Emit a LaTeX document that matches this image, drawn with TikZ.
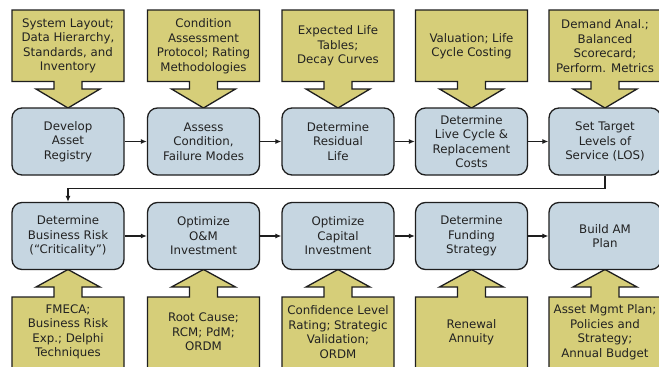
\documentclass[tikz,border=0pt]{standalone}
\usepackage{fontspec}
\setmainfont{DejaVu Sans}
\usetikzlibrary{arrows.meta}
\definecolor{calloutfill}{HTML}{D6CE79}
\definecolor{boxfill}{HTML}{C6D6E1}
\definecolor{edgecol}{HTML}{1E1E1E}
\definecolor{textcol}{HTML}{222222}
\tikzset{
  procbox/.style={draw=edgecol, line width=1.3pt, fill=boxfill, rounded corners=10pt,
    minimum width=112pt, minimum height=67pt, inner sep=0pt, align=center, text=textcol,
    font=\fontsize{11.8}{14.5}\selectfont},
  calltext/.style={align=center, inner sep=0pt, text=textcol, font=\fontsize{11.8}{14.5}\selectfont},
  callshape/.style={draw=edgecol, line width=1.3pt, fill=calloutfill, line join=miter},
  flow/.style={draw=edgecol, line width=1.1pt, -{Latex[length=6pt,width=5pt]}}
}
\newcommand{\topcall}[3]{%
  \path[callshape] (#1-56,10) -- (#1+56,10) -- (#1+56,81.5) -- (#1+14,81.5) -- (#1+14,89)
    -- (#1+32,89) -- (#1,108) -- (#1-32,89) -- (#1-14,89) -- (#1-14,81.5) -- (#1-56,81.5) -- cycle;
  \node[calltext] (#2) at (#1,46) {#3};}
\newcommand{\botcall}[3]{%
  \path[callshape] (#1-56,375) -- (#1+56,375) -- (#1+56,297) -- (#1+14,297) -- (#1+14,287)
    -- (#1+32,287) -- (#1,269.5) -- (#1-32,287) -- (#1-14,287) -- (#1-14,297) -- (#1-56,297) -- cycle;
  \node[calltext] (#2) at (#1,332) {#3};}
\begin{document}
\begin{tikzpicture}[x=1pt,y=-1pt]
\path[use as bounding box] (0,0) rectangle (659,367);
\clip (0,0) rectangle (659,367);
\fill[white] (0,0) rectangle (659,367);
% top callouts
\topcall{68}{t1}{System Layout;\\Data Hierarchy,\\Standards, and\\Inventory}
\topcall{203.5}{t2}{Condition\\Assessment\\Protocol; Rating\\Methodologies}
\topcall{338}{t3}{Expected Life\\Tables;\\Decay Curves}
\topcall{471.5}{t4}{Valuation; Life\\Cycle Costing}
\topcall{605}{t5}{Demand Anal.;\\Balanced\\Scorecard;\\Perform. Metrics}
% bottom callouts
\botcall{68}{b1}{FMECA;\\Business Risk\\Exp.; Delphi\\Techniques}
\botcall{203.5}{b2}{Root Cause;\\RCM; PdM;\\ORDM}
\botcall{338}{b3}{Confidence Level\\Rating; Strategic\\Validation;\\ORDM}
\botcall{471.5}{b4}{Renewal\\Annuity}
\botcall{605}{b5}{Asset Mgmt Plan;\\Policies and\\Strategy;\\Annual Budget}
% process boxes
\node[procbox] (p1) at (68,141.5) {Develop\\Asset\\Registry};
\node[procbox] (p2) at (203.5,141.5) {Assess\\Condition,\\Failure Modes};
\node[procbox] (p3) at (338,141.5) {Determine\\Residual\\Life};
\node[procbox] (p4) at (471.5,141.5) {Determine\\Live Cycle \&\\Replacement\\Costs};
\node[procbox] (p5) at (605,141.5) {Set Target\\Levels of\\Service (LOS)};
\node[procbox] (q1) at (68,236) {Determine\\Business Risk\\(“Criticality”)};
\node[procbox] (q2) at (203.5,236) {Optimize\\O\&M\\Investment};
\node[procbox] (q3) at (338,236) {Optimize\\Capital\\Investment};
\node[procbox] (q4) at (471.5,236) {Determine\\Funding\\Strategy};
\node[procbox] (q5) at (605,236) {Build AM\\Plan};
% flows
\draw[flow] (p1) -- (p2);
\draw[flow] (p2) -- (p3);
\draw[flow] (p3) -- (p4);
\draw[flow] (p4) -- (p5);
\draw[flow] (q1) -- (q2);
\draw[flow] (q2) -- (q3);
\draw[flow] (q3) -- (q4);
\draw[flow] (q4) -- (q5);
\coordinate (fbR) at (605,188.5);
\coordinate (fbL) at (68,188.5);
\draw[flow] (p5.south) -- (fbR) -- (fbL) -- (q1.north);
\end{tikzpicture}
\end{document}
